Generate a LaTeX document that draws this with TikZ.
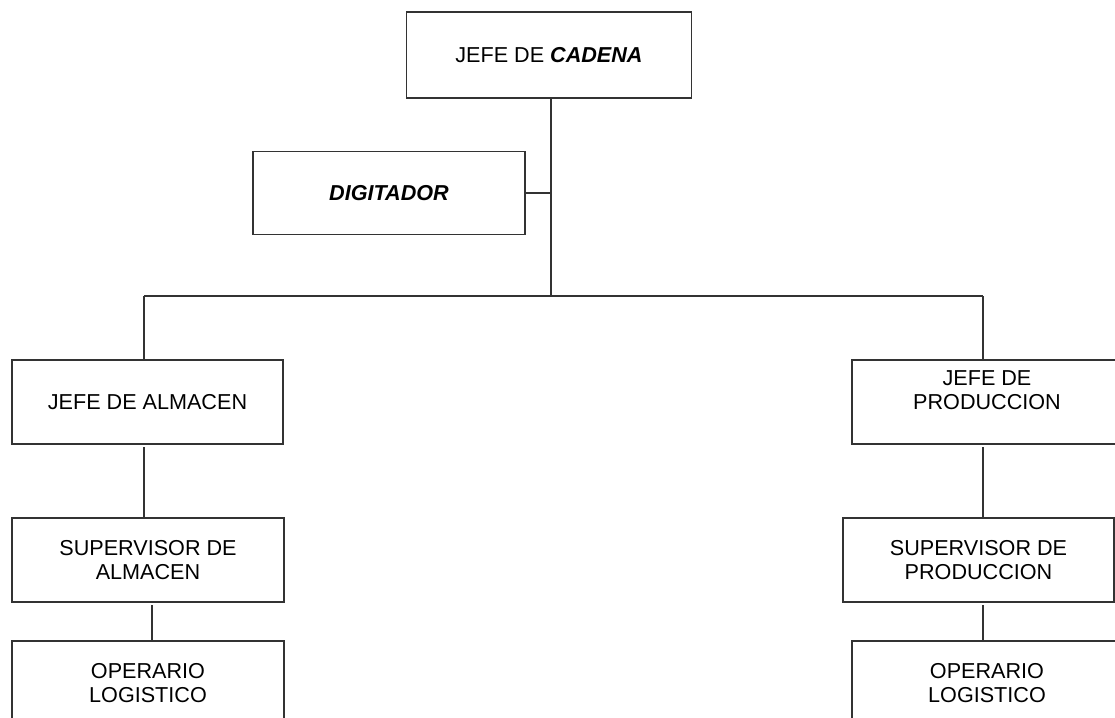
\documentclass[tikz,border=0pt]{standalone}
\usepackage{fontspec}
\setmainfont{Liberation Sans}
\begin{document}
\begin{tikzpicture}[x=0.75pt,y=-0.75pt,
  every node/.style={font=\fontsize{16.2}{18}\selectfont},
  line/.style={draw=black!80,line width=1.2pt},
  box/.style={line, rectangle, inner sep=0pt, align=center, fill=white},
  gap/.style={shorten <=2pt}]
\useasboundingbox (0,0) rectangle (1115,718);
\clip (0,0) rectangle (1115,718);

% boxes
\node[box, minimum width=213.75pt, minimum height=64.5pt] (cad) at (549,55)
  {JEFE DE \textit{\textbf{CADENA}}};
\node[box, minimum width=204pt, minimum height=62.25pt] (dig) at (389,193)
  {\textit{\textbf{DIGITADOR}}};
\node[box, minimum width=203.25pt, minimum height=63pt] (jalm) at (147.5,402)
  {JEFE DE ALMACEN};
\node[box, minimum width=202.5pt, minimum height=63pt] (jprod) at (987,402)
  {JEFE DE\\PRODUCCION\\\mbox{}};
\node[box, minimum width=204pt, minimum height=63pt] (salm) at (148,560)
  {SUPERVISOR DE\\ALMACEN};
\node[box, minimum width=203.25pt, minimum height=63pt] (sprod) at (978.5,560)
  {SUPERVISOR DE\\PRODUCCION};
\node[box, minimum width=204pt, minimum height=63pt] (oalm) at (148,683)
  {OPERARIO\\LOGISTICO};
\node[box, minimum width=202.5pt, minimum height=63pt] (oprod) at (987,683)
  {OPERARIO\\LOGISTICO};

% junction points of the connectors
\coordinate (trunk) at (551,296);
\coordinate (busL) at (144,296);
\coordinate (busR) at (983,296);
\coordinate (stemL) at (152,0);

% connectors
\draw[line] (cad.south -| trunk) -- (trunk);
\draw[line] (dig.east) -- (dig.east -| trunk);
\draw[line] (busL) -- (busR);
\draw[line] (busL) -- (jalm.north -| busL);
\draw[line] (busR) -- (jprod.north -| busR);
\draw[line,gap] (jalm.south -| busL) -- (salm.north -| busL);
\draw[line,gap] (jprod.south -| busR) -- (sprod.north -| busR);
\draw[line,gap] (salm.south -| stemL) -- (oalm.north -| stemL);
\draw[line,gap] (sprod.south -| busR) -- (oprod.north -| busR);
\end{tikzpicture}
\end{document}
